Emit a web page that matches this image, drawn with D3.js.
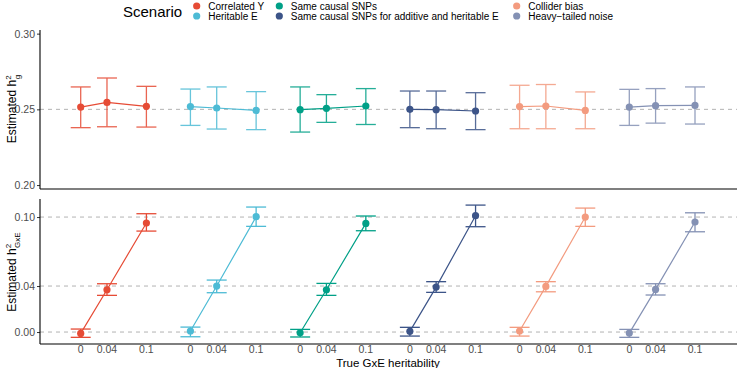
<!DOCTYPE html>
<html>
<head>
<meta charset="utf-8">
<script src="https://cdn.jsdelivr.net/npm/d3@7"></script>
<style>
  body { margin: 0; background: #fff; }
  svg { display: block; font-family: "Liberation Sans", Arial, sans-serif; }
</style>
</head>
<body>
<div id="chart"></div>
<script>
// Scenarios and their colours (ggsci npg)
const scenarios = ["Correlated Y", "Heritable E", "Same causal SNPs",
    "Same causal SNPs for additive and heritable E", "Collider bias", "Heavy\u2212tailed noise"];
const colors = ["#E64B35", "#4DBBD5", "#00A087", "#3C5488", "#F39B7F", "#8491B4"];
const trueGxE = [0, 0.04, 0.1];
const xTickLabels = ["0", "0.04", "0.1"];

// Estimated h2g (top panel): one row per scenario, one value per true GxE
const hgMean = [
    [0.2515, 0.2546, 0.2520],
    [0.2518, 0.2509, 0.2493],
    [0.2498, 0.2507, 0.2522],
    [0.2500, 0.2498, 0.2489],
    [0.2518, 0.2522, 0.2493],
    [0.2515, 0.2524, 0.2526]
];
const hgLow = [
    [0.2379, 0.2385, 0.2383],
    [0.2394, 0.2370, 0.2366],
    [0.2350, 0.2414, 0.2400],
    [0.2379, 0.2372, 0.2366],
    [0.2372, 0.2372, 0.2372],
    [0.2394, 0.2409, 0.2403]
];
const hgHigh = [
    [0.2648, 0.2707, 0.2652],
    [0.2634, 0.2648, 0.2617],
    [0.2648, 0.2597, 0.2637],
    [0.2621, 0.2621, 0.2610],
    [0.2659, 0.2664, 0.2615],
    [0.2632, 0.2637, 0.2648]
];

// Estimated h2GxE (bottom panel)
const hgxeMean = [
    [-0.0012, 0.0368, 0.0948],
    [0.0009, 0.0400, 0.1003],
    [-0.0006, 0.0368, 0.0945],
    [0.0006, 0.0391, 0.1012],
    [0.0009, 0.0397, 0.1000],
    [-0.0009, 0.0371, 0.0957]
];
const hgxeLow = [
    [-0.0046, 0.0319, 0.0878],
    [-0.0041, 0.0342, 0.0919],
    [-0.0043, 0.0319, 0.0881],
    [-0.0035, 0.0345, 0.0916],
    [-0.0035, 0.0350, 0.0919],
    [-0.0046, 0.0322, 0.0872]
];
const hgxeHigh = [
    [0.0026, 0.0420, 0.1029],
    [0.0043, 0.0452, 0.1087],
    [0.0023, 0.0423, 0.1009],
    [0.0041, 0.0438, 0.1104],
    [0.0041, 0.0438, 0.1078],
    [0.0023, 0.0420, 0.1037]
];

const topTicks = [0.20, 0.25, 0.30];
const botTicks = [0.00, 0.04, 0.10];

const width = 739, height = 368;
const left = 40, right = 737;

const svg = d3.select("#chart").append("svg")
    .attr("width", width)
    .attr("height", height);

// x: scenario group offset + position of true GxE within group
const xGroup = d3.scaleLinear().domain([0, 5]).range([80.7, 629.3]);
const xInner = d3.scaleLinear().domain([0, 0.1]).range([0, 65.7]);
const xPos = (s, h) => xGroup(s) + xInner(h);

const yTop = d3.scaleLinear().domain([0.1974, 0.3024]).range([189, 30]);
const yBot = d3.scaleLinear().domain([-0.0104, 0.1157]).range([344, 199]);

function panel(y, ticks, refLines, mean, low, high, ebOpacity) {
    const g = svg.append("g");

    // reference dashed lines
    g.selectAll("line.ref")
        .data(refLines)
        .join("line")
        .attr("x1", left).attr("x2", right)
        .attr("y1", d => y(d)).attr("y2", d => y(d))
        .attr("stroke", "#b3b3b3")
        .attr("stroke-width", 1)
        .attr("stroke-dasharray", "4,4");

    // y axis
    const axis = g.append("g")
        .attr("transform", `translate(${left},0)`)
        .call(d3.axisLeft(y).tickValues(ticks).tickFormat(d3.format(".2f")).tickSize(3).tickPadding(2));
    axis.select(".domain").remove();
    axis.selectAll("text").attr("fill", "#4d4d4d").style("font-size", "10.5px");
    axis.selectAll("line").attr("stroke", "#333");

    // axis lines
    g.append("line")
        .attr("x1", left).attr("x2", left)
        .attr("y1", y.range()[1]).attr("y2", y.range()[0])
        .attr("stroke", "#000").attr("stroke-width", 1.1);
    g.append("line")
        .attr("x1", left).attr("x2", right)
        .attr("y1", y.range()[0]).attr("y2", y.range()[0])
        .attr("stroke", "#000").attr("stroke-width", 1.1);

    scenarios.forEach((s, i) => {
        const pts = trueGxE.map((h, j) => ({h, m: mean[i][j], lo: low[i][j], hi: high[i][j]}));
        const sg = g.append("g").attr("stroke", colors[i]).attr("fill", colors[i]);

        const eb = sg.append("g").attr("opacity", ebOpacity).attr("stroke-width", 1.3);
        eb.selectAll("line.v").data(pts).join("line")
            .attr("x1", d => xPos(i, d.h)).attr("x2", d => xPos(i, d.h))
            .attr("y1", d => y(d.lo)).attr("y2", d => y(d.hi));
        eb.selectAll("line.hi").data(pts).join("line")
            .attr("x1", d => xPos(i, d.h) - 10).attr("x2", d => xPos(i, d.h) + 10)
            .attr("y1", d => y(d.hi)).attr("y2", d => y(d.hi));
        eb.selectAll("line.lo").data(pts).join("line")
            .attr("x1", d => xPos(i, d.h) - 10).attr("x2", d => xPos(i, d.h) + 10)
            .attr("y1", d => y(d.lo)).attr("y2", d => y(d.lo));

        sg.append("path")
            .datum(pts)
            .attr("fill", "none")
            .attr("stroke-width", 1.2)
            .attr("d", d3.line().x(d => xPos(i, d.h)).y(d => y(d.m)));

        sg.selectAll("circle").data(pts).join("circle")
            .attr("cx", d => xPos(i, d.h)).attr("cy", d => y(d.m))
            .attr("r", 3.6)
            .attr("stroke", "none");
    });
}

panel(yTop, topTicks, [0.25], hgMean, hgLow, hgHigh, 0.85);
panel(yBot, botTicks, botTicks, hgxeMean, hgxeLow, hgxeHigh, 1);

// x tick labels of the bottom panel
const xt = svg.append("g");
scenarios.forEach((s, i) => {
    xt.selectAll(null).data(trueGxE).join("text")
        .attr("x", (d) => xPos(i, d))
        .attr("y", 353)
        .attr("text-anchor", "middle")
        .attr("fill", "#4d4d4d")
        .style("font-size", "10.5px")
        .text((d, j) => xTickLabels[j]);
});

svg.append("text")
    .attr("x", 388).attr("y", 366.5)
    .attr("text-anchor", "middle")
    .style("font-size", "11.5px")
    .text("True GxE heritability");

// y titles with super/subscripts
const t1 = svg.append("text")
    .attr("transform", "translate(16,109) rotate(-90)")
    .attr("text-anchor", "middle")
    .style("font-size", "12px");
t1.append("tspan").text("Estimated h");
t1.append("tspan").attr("dy", -5).style("font-size", "8px").text("2");
t1.append("tspan").attr("dx", -4).attr("dy", 9).style("font-size", "8px").text("g");

const t2 = svg.append("text")
    .attr("transform", "translate(16,272) rotate(-90)")
    .attr("text-anchor", "middle")
    .style("font-size", "12px");
t2.append("tspan").text("Estimated h");
t2.append("tspan").attr("dy", -5).style("font-size", "8px").text("2");
t2.append("tspan").attr("dx", -4).attr("dy", 9).style("font-size", "8px").text("GxE");

// legend
const legend = svg.append("g");
legend.append("text")
    .attr("x", 123).attr("y", 17)
    .style("font-size", "15px")
    .text("Scenario");
const colX = [196.7, 279.3, 516.7];
const rowY = [6, 16];
scenarios.forEach((s, i) => {
    const c = Math.floor(i / 2), r = i % 2;
    legend.append("circle")
        .attr("cx", colX[c]).attr("cy", rowY[r])
        .attr("r", 3.6)
        .attr("fill", colors[i]);
    legend.append("text")
        .attr("x", colX[c] + 11.5).attr("y", rowY[r] + 3.6)
        .style("font-size", "10px")
        .text(s);
});
</script>
</body>
</html>
